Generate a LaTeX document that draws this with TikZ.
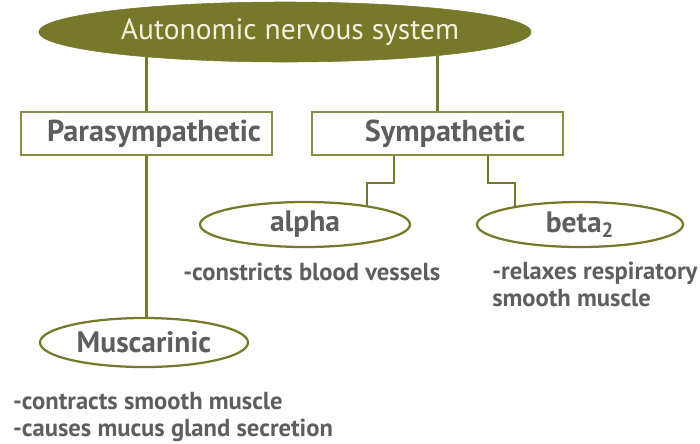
\documentclass[tikz,border=0pt]{standalone}
\usepackage{fontspec}
\setmainfont{PT Sans}
\usetikzlibrary{
  positioning,
  shapes.geometric,
  backgrounds,
  calc,
}
\definecolor{olive}{HTML}{76782A}
\definecolor{boxLine}{HTML}{8A8C45}
\definecolor{textGray}{HTML}{5E5E5E}
\definecolor{titleText}{HTML}{F2F0DE}
\tikzset{
  rootnode/.style={
    ellipse, fill=olive, draw=olive, minimum width=11.65cm, minimum height=1.5cm,
    text=titleText, font=\fontsize{21}{25}\selectfont, inner sep=0pt,
  },
  branchbox/.style={
    rectangle, draw=boxLine, fill=white, line width=1.1pt,
    minimum width=6.275cm, minimum height=1.075cm,
    text=textGray, font=\fontsize{21.5}{25}\selectfont\bfseries, inner sep=2pt,
  },
  receptor/.style={
    ellipse, draw=olive, fill=white, line width=1.6pt,
    minimum height=1.125cm, inner sep=0pt,
    text=textGray, font=\fontsize{21}{25}\selectfont\bfseries,
  },
  effect/.style={
    align=left, text=textGray, font=\fontsize{17.5}{19.2}\selectfont\bfseries, inner sep=0pt,
  },
  link/.style={draw=olive, line width=1.5pt},
}

\begin{document}
\begin{tikzpicture}
  \useasboundingbox (0,0) rectangle (17.5,-11.075);

  % Root
  \node[rootnode] (ans) at (7.125,-0.8) {\hspace*{0.25cm}Autonomic nervous system};

  % Divisions
  \node[branchbox] (para) at (3.6625,-3.3375) {\hspace*{0.375cm}Parasympathetic};
  \node[branchbox] (symp) at (10.9375,-3.3375) {\hspace*{0.375cm}Sympathetic};

  % Receptors
  \node[receptor, minimum width=5.25cm] (alpha) at (7.625,-5.6125) {alpha};
  \node[receptor, minimum width=5.15cm] (beta) at (14.5,-5.6125) {beta\textsubscript{2}};
  \node[receptor, minimum width=5.2cm, minimum height=1.225cm] (musc) at (3.6,-8.5625) {Muscarinic};

  % Effects
  \node[effect, anchor=west] (alphaEff) at (4.575,-6.8) {-constricts blood vessels};
  \node[effect, anchor=north west] (betaEff) at (12.3,-6.55) {-relaxes respiratory\\smooth muscle};
  \node[effect, anchor=north west] (muscEff) at (0.32,-9.81) {-contracts smooth muscle\\-causes mucus gland secretion};

  % Connectors
  \begin{scope}[on background layer]
    \draw[link] (para.north) -- (para.north |- ans.center);
    \draw[link] (symp.north) -- (symp.north |- ans.center);
    \draw[link] (para.south) -- (para.south |- musc.center);
    \draw[link] ([xshift=-1.0875cm]symp.south) -- ++(0,-0.675) -| ([xshift=1.55cm]alpha.center);
    \draw[link] ([xshift=1.2625cm]symp.south) -- ++(0,-0.675) -| ([xshift=-1.625cm]beta.center);
  \end{scope}

\end{tikzpicture}
\end{document}
